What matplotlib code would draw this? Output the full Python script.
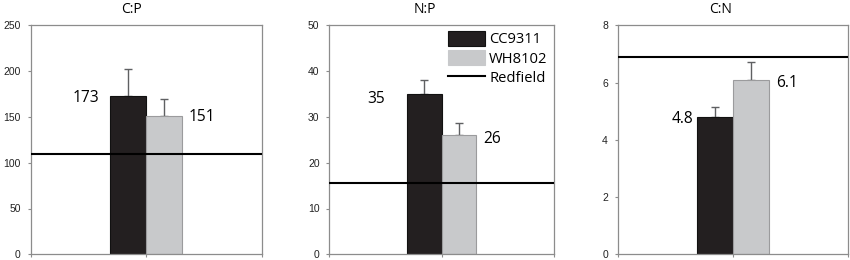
import matplotlib
matplotlib.use("Agg")
import matplotlib.pyplot as plt
from matplotlib.patches import Patch
from matplotlib.lines import Line2D

# ---- data ----
panels = ["C:P", "N:P", "C:N"]
series_names = ["CC9311", "WH8102", "Redfield"]
cc9311 = [173, 35, 4.8]
wh8102 = [151, 26, 6.1]
cc9311_err = [29, 3.0, 0.33]
wh8102_err = [19, 2.7, 0.62]
redfield = [110, 15.6, 6.88]
cc9311_labels = ["173", "35", "4.8"]
wh8102_labels = ["151", "26", "6.1"]
y_max = [250, 50, 8]
y_step = [50, 10, 2]

# ---- style ----
W, H = 850, 260
fig = plt.figure(figsize=(8.5, 2.6), dpi=100)
PX = 72 / 100  # points per pixel

c_black = "#231f20"
c_grey = "#c8c9cb"
c_spine = "#8c8c8c"
c_err = "#5f6062"
font_main = ["Open Sans", "DejaVu Sans"]
font_tick = ["Liberation Sans", "DejaVu Sans"]

axes_px = [(30.5, 262.3), (329.3, 554.0), (617.7, 848.3)]
top_px, bot_px = 25.3, 254.3
title_x = [0.435, 0.424, 0.448]
bar_w = 0.31
# (gap px, dy px) for black label and grey label
lab_black = [(11, 2), (22, 5), (4, 2)]
lab_grey = [(6, 1), (7, 4), (7, 3)]

for i, name in enumerate(panels):
    l, r = axes_px[i]
    ax = fig.add_axes([l / W, (H - bot_px) / H, (r - l) / W, (bot_px - top_px) / H])
    ax.set_xlim(0, 2)
    ax.set_ylim(0, y_max[i])
    xb = 1 - bar_w
    xg = 1.0
    ax.bar([xb], [cc9311[i]], width=bar_w, align="edge", color=c_black,
           edgecolor="#111111", linewidth=0.8, zorder=2)
    ax.bar([xg], [wh8102[i]], width=bar_w, align="edge", color=c_grey,
           edgecolor="#9b9b9d", linewidth=0.8, zorder=2)
    ax.errorbar([xb + bar_w / 2], [cc9311[i]], yerr=[[0], [cc9311_err[i]]],
                fmt="none", ecolor=c_err, elinewidth=1.0, capsize=3.2,
                capthick=1.0, zorder=1)
    ax.errorbar([xg + bar_w / 2], [wh8102[i]], yerr=[[0], [wh8102_err[i]]],
                fmt="none", ecolor=c_err, elinewidth=1.0, capsize=3.2,
                capthick=1.0, zorder=1)
    ax.axhline(redfield[i], color="black", linewidth=1.5, zorder=3)

    gb, db = lab_black[i]
    ax.annotate(cc9311_labels[i], xy=(xb, cc9311[i]),
                xytext=(-gb * PX, -db * PX), textcoords="offset points",
                ha="right", va="center", fontsize=11.2, family=font_main)
    gg, dg = lab_grey[i]
    ax.annotate(wh8102_labels[i], xy=(xg + bar_w, wh8102[i]),
                xytext=(gg * PX, -dg * PX), textcoords="offset points",
                ha="left", va="center", fontsize=11.2, family=font_main)

    ax.text(title_x[i], 1.071, name, transform=ax.transAxes, ha="center",
            va="center", fontsize=10, family=font_main)

    ax.set_yticks(range(0, y_max[i] + 1, y_step[i]))
    ax.set_xticks([0, 1, 2])
    ax.set_xticklabels([])
    ax.tick_params(axis="both", direction="out", length=2.5, width=0.8,
                   color=c_spine, labelsize=7.5, pad=4.5)
    for lab in ax.get_yticklabels():
        lab.set_family(font_tick)
        lab.set_color("#222222")
    for s in ax.spines.values():
        s.set_color(c_spine)
        s.set_linewidth(0.9)

    if i == 1:
        handles = [Patch(facecolor=c_black, edgecolor="#111111", linewidth=0.8),
                   Patch(facecolor=c_grey, edgecolor="#c8c9cb", linewidth=0.8),
                   Line2D([0], [0], color="black", linewidth=1.5)]
        ax.legend(handles, series_names, loc="upper left",
                  bbox_to_anchor=(0.528, 0.975), frameon=False,
                  prop={"family": font_main, "size": 10.6},
                  handlelength=2.5, handleheight=1.15, handletextpad=0.3,
                  labelspacing=0.2, borderpad=0, borderaxespad=0)

fig.savefig("out.png", dpi=100)
